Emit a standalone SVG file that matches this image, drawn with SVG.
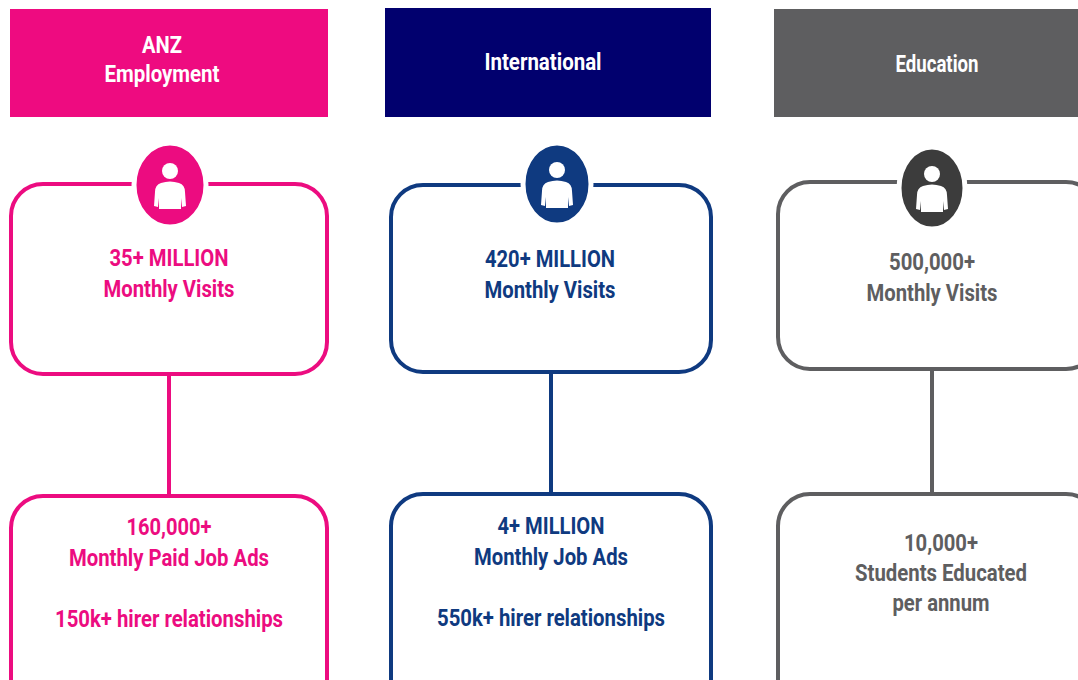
<svg xmlns="http://www.w3.org/2000/svg" width="1078" height="680" viewBox="0 0 1078 680">
<style>
text{font-family:Roboto,"Liberation Sans",sans-serif;font-weight:bold;text-anchor:middle}
.hd{fill:#fff;font-size:24px}
.t{font-size:24px}
.box{fill:#fff;stroke-width:4}
.pk{fill:#EC0C80}.bl{fill:#0F3A80}.gy{fill:#5E5E60}
.spk{stroke:#EC0C80}.sbl{stroke:#0F3A80}.sgy{stroke:#5E5E60}
.ring{stroke:#fff;stroke-width:5}
</style>
<defs>
<g id="person" fill="#fff">
<circle cx="0" cy="-15" r="8"/>
<path d="M-9,-3 Q0,-6 9,-3 Q15,-1 15,6 L16,20 L12,21 L11,12 L11,23 L-11,23 L-11,12 L-12,21 L-16,20 L-15,6 Q-15,-1 -9,-3 Z"/>
</g>
</defs>
<rect width="1078" height="680" fill="#fff"/>
<g id="connectors" stroke-width="4">
<line x1="169" y1="374" x2="169" y2="496" class="spk"/>
<line x1="551" y1="372" x2="551" y2="494" class="sbl"/>
<line x1="932" y1="369" x2="932" y2="494" class="sgy"/>
</g>
<g id="hdr-anz">
<rect x="10" y="9" width="318" height="108" fill="#EE0B80"/>
<text class="hd" x="162" y="53" textLength="40" lengthAdjust="spacingAndGlyphs">ANZ</text>
<text class="hd" x="162" y="82" textLength="115" lengthAdjust="spacingAndGlyphs">Employment</text>
</g>
<g id="hdr-int">
<rect x="385" y="8" width="326" height="109" fill="#01006E"/>
<text class="hd" x="543" y="70" textLength="117" lengthAdjust="spacingAndGlyphs">International</text>
</g>
<g id="hdr-edu">
<rect x="774" y="9" width="306" height="108" fill="#5E5E60"/>
<text class="hd" x="937" y="72" textLength="83" lengthAdjust="spacingAndGlyphs">Education</text>
</g>
<g id="anz-visits">
<rect class="box spk" x="11" y="184" width="316" height="190" rx="32"/>
<ellipse class="ring" cx="170" cy="185" rx="36" ry="42" fill="#EC0C80"/>
<use href="#person" x="170" y="186"/>
<text class="t pk" x="169" y="266" textLength="119" lengthAdjust="spacingAndGlyphs">35+ MILLION</text>
<text class="t pk" x="169" y="297" textLength="131" lengthAdjust="spacingAndGlyphs">Monthly Visits</text>
</g>
<g id="anz-ads">
<rect class="box spk" x="11" y="496" width="316" height="220" rx="32"/>
<text class="t pk" x="169" y="535" textLength="85" lengthAdjust="spacingAndGlyphs">160,000+</text>
<text class="t pk" x="169" y="566" textLength="200" lengthAdjust="spacingAndGlyphs">Monthly Paid Job Ads</text>
<text class="t pk" x="169" y="627" textLength="228" lengthAdjust="spacingAndGlyphs">150k+ hirer relationships</text>
</g>
<g id="int-visits">
<rect class="box sbl" x="391" y="185" width="320" height="187" rx="32"/>
<ellipse class="ring" cx="557" cy="184" rx="34" ry="41" fill="#0F3A80"/>
<use href="#person" x="557" y="185"/>
<text class="t bl" x="550" y="267" textLength="130" lengthAdjust="spacingAndGlyphs">420+ MILLION</text>
<text class="t bl" x="550" y="298" textLength="131" lengthAdjust="spacingAndGlyphs">Monthly Visits</text>
</g>
<g id="int-ads">
<rect class="box sbl" x="391" y="494" width="320" height="220" rx="32"/>
<text class="t bl" x="551" y="534" textLength="107" lengthAdjust="spacingAndGlyphs">4+ MILLION</text>
<text class="t bl" x="551" y="565" textLength="154" lengthAdjust="spacingAndGlyphs">Monthly Job Ads</text>
<text class="t bl" x="551" y="626" textLength="228" lengthAdjust="spacingAndGlyphs">550k+ hirer relationships</text>
</g>
<g id="edu-visits">
<rect class="box sgy" x="778" y="182" width="320" height="187" rx="32"/>
<ellipse class="ring" cx="932" cy="188" rx="33" ry="41" fill="#3C3C3C"/>
<use href="#person" x="932" y="189"/>
<text class="t gy" x="932" y="270" textLength="86" lengthAdjust="spacingAndGlyphs">500,000+</text>
<text class="t gy" x="932" y="301" textLength="131" lengthAdjust="spacingAndGlyphs">Monthly Visits</text>
</g>
<g id="edu-students">
<rect class="box sgy" x="778" y="494" width="320" height="220" rx="32"/>
<text class="t gy" x="941" y="551" textLength="74" lengthAdjust="spacingAndGlyphs">10,000+</text>
<text class="t gy" x="941" y="581" textLength="172" lengthAdjust="spacingAndGlyphs">Students Educated</text>
<text class="t gy" x="941" y="611" textLength="97" lengthAdjust="spacingAndGlyphs">per annum</text>
</g>
</svg>
